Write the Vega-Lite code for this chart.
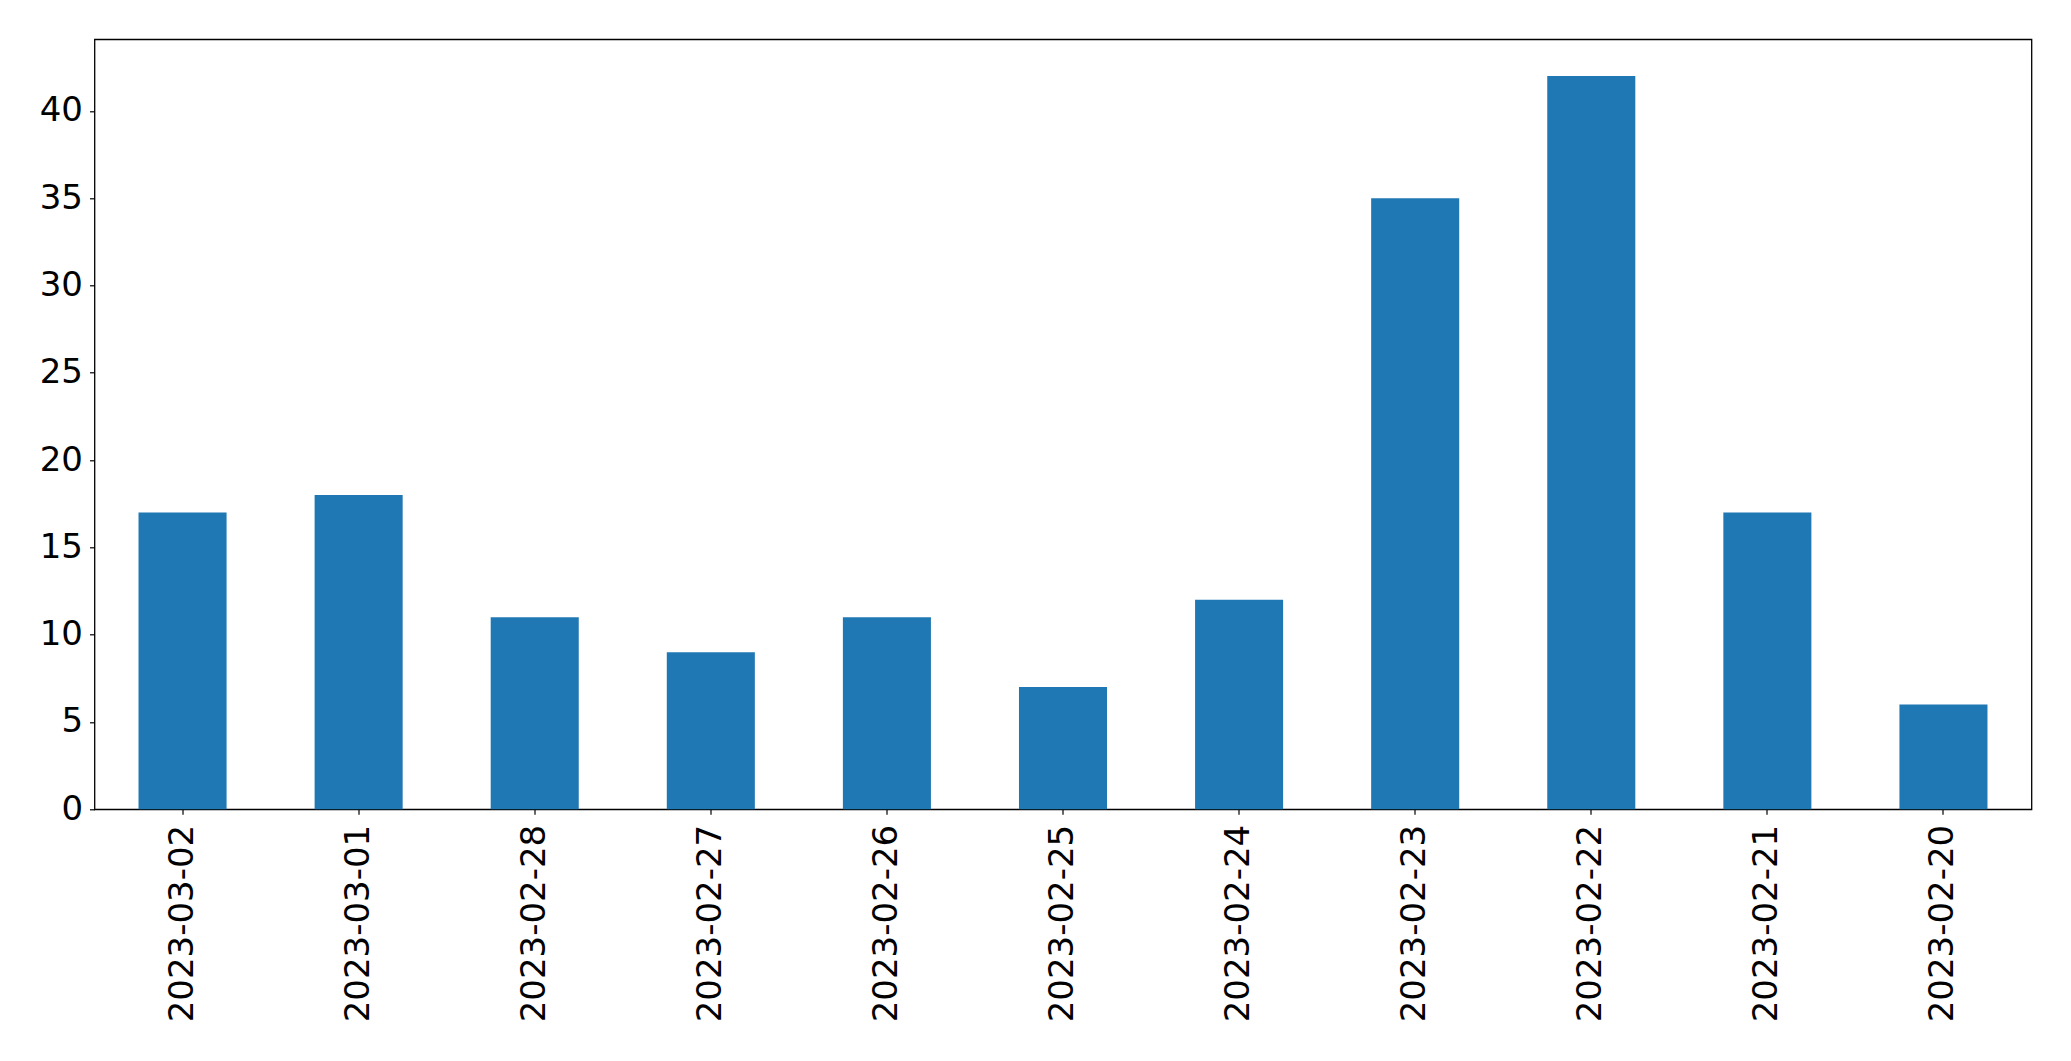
{
  "$schema": "https://vega.github.io/schema/vega-lite/v6.json",
  "autosize": {"type": "none"},
  "width": 1937,
  "height": 770,
  "padding": {"left": 94.5, "top": 39.3, "right": 39, "bottom": 252},
  "background": "white",
  "data": {
    "values": [
      {"date": "2023-03-02", "count": 17},
      {"date": "2023-03-01", "count": 18},
      {"date": "2023-02-28", "count": 11},
      {"date": "2023-02-27", "count": 9},
      {"date": "2023-02-26", "count": 11},
      {"date": "2023-02-25", "count": 7},
      {"date": "2023-02-24", "count": 12},
      {"date": "2023-02-23", "count": 35},
      {"date": "2023-02-22", "count": 42},
      {"date": "2023-02-21", "count": 17},
      {"date": "2023-02-20", "count": 6}
    ]
  },
  "mark": {"type": "bar", "color": "#1f77b4"},
  "encoding": {
    "x": {
      "field": "date",
      "type": "nominal",
      "sort": null,
      "scale": {"paddingInner": 0.5, "paddingOuter": 0.25},
      "axis": {
        "title": null,
        "labelAngle": -90,
        "labelAlign": "right",
        "labelBaseline": "middle",
        "labelFont": "DejaVu Sans",
        "labelFontSize": 34,
        "labelColor": "#000",
        "labelPadding": 10,
        "labelLimit": 0,
        "labelOverlap": false,
        "tickColor": "#000",
        "tickSize": 5,
        "tickWidth": 1.2,
        "domain": false,
        "grid": false
      }
    },
    "y": {
      "field": "count",
      "type": "quantitative",
      "scale": {"domain": [0, 44.1], "nice": false, "zero": true},
      "axis": {
        "title": null,
        "values": [0, 5, 10, 15, 20, 25, 30, 35, 40],
        "labelFont": "DejaVu Sans",
        "labelFontSize": 34,
        "labelColor": "#000",
        "labelPadding": 7,
        "labelOverlap": false,
        "tickColor": "#000",
        "tickSize": 5,
        "tickWidth": 1.2,
        "domain": false,
        "grid": false
      }
    }
  },
  "config": {
    "view": {"stroke": "#000", "strokeWidth": 1.3}
  }
}
